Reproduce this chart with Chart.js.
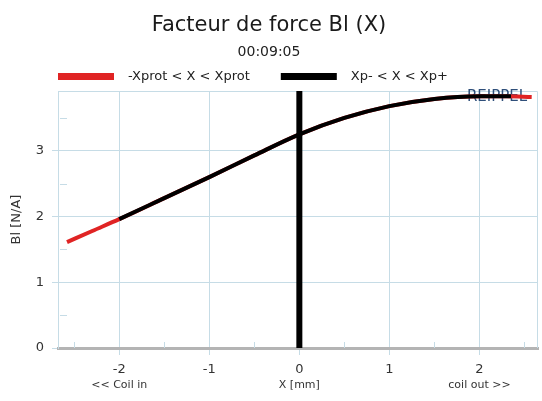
<!DOCTYPE html>
<html>
<head>
<meta charset="utf-8">
<script src="https://cdn.jsdelivr.net/npm/chart.js@4/dist/chart.umd.min.js"></script>
<style>
  html, body { margin: 0; background: #fff; }
  #wrap { width: 542px; height: 401px; }
</style>
</head>
<body>
<div id="wrap"><canvas id="bl"></canvas></div>
<script>
// Bl(X), X in mm
var xFull = [-2.58, -2.3, -2.0, -1.5, -1.0, -0.5, 0, 0.5, 1.0, 1.5, 2.0, 2.3, 2.58];
var blFull = [1.61, 1.78, 1.96, 2.28, 2.60, 2.93, 3.25, 3.50, 3.68, 3.79, 3.83, 3.83, 3.82];
var xInner = [-2.0, -1.5, -1.0, -0.5, 0, 0.5, 1.0, 1.5, 2.0, 2.35];
var blInner = [1.96, 2.28, 2.60, 2.93, 3.25, 3.50, 3.68, 3.79, 3.83, 3.83];
var xMarker = [0, 0];
var yMarker = [0, 3.91];
var xTicks = [-2, -1, 0, 1, 2];
var yTicks = [0, 1, 2, 3];
var xMinor = [-2.5, -1.5, -0.5, 0.5, 1.5, 2.5];
var yMinor = [0.5, 1.5, 2.5, 3.5];
var xSubTicks = [-2, 0, 2];
var xSubLabels = ['<< Coil in', 'X [mm]', 'coil out >>'];
var seriesNames = ['-Xprot < X < Xprot', 'Xp- < X < Xp+'];

var FONT = 'DejaVu Sans';
var GRID = '#c6dce6';

function pts(xs, ys){
  var out = [];
  for (var i = 0; i < xs.length; i++) {
    out.push({x: xs[i], y: ys[i]});
  }
  return out;
}

// minor marks, frame, watermark, sub labels and legend
var extras = {
  id: 'extras',
  beforeDatasetsDraw: function(chart){
    var ctx = chart.ctx;
    var a = chart.chartArea;
    var sx = chart.scales.x, sy = chart.scales.y;
    ctx.save();
    ctx.strokeStyle = GRID;
    ctx.lineWidth = 1;
    ctx.beginPath();
    ctx.moveTo(a.left, a.top + 0.5);
    ctx.lineTo(a.right - 0.5, a.top + 0.5);
    ctx.lineTo(a.right - 0.5, a.bottom);
    xMinor.forEach(function(v){
      var px = Math.round(sx.getPixelForValue(v)) + 0.5;
      ctx.moveTo(px, a.bottom);
      ctx.lineTo(px, a.bottom - 6);
    });
    yMinor.forEach(function(v){
      var py = Math.round(sy.getPixelForValue(v)) + 0.5;
      ctx.moveTo(a.left + 2, py);
      ctx.lineTo(a.left + 9, py);
    });
    ctx.stroke();

    ctx.fillStyle = '#2f4f7a';
    ctx.font = '15px "' + FONT + '"';
    ctx.textAlign = 'center';
    ctx.textBaseline = 'middle';
    ctx.fillText('REIPPEL', a.right - 41, a.top + 6);
    ctx.restore();
  },
  afterDraw: function(chart){
    var ctx = chart.ctx;
    var a = chart.chartArea;
    var sx = chart.scales.x;
    ctx.save();
    ctx.fillStyle = '#333';
    ctx.font = '11px "' + FONT + '"';
    ctx.textAlign = 'center';
    ctx.textBaseline = 'middle';
    xSubTicks.forEach(function(v, i){
      ctx.fillText(xSubLabels[i], sx.getPixelForValue(v), 385);
    });

    // legend
    ctx.font = '13px "' + FONT + '"';
    ctx.textAlign = 'left';
    var x = a.left;
    var y = 76.5;
    for (var i = 0; i < seriesNames.length; i++) {
      var ds = chart.data.datasets[i];
      ctx.fillStyle = ds.borderColor;
      ctx.fillRect(x, y - 3.5, 56, 7);
      ctx.fillStyle = '#222';
      ctx.fillText(seriesNames[i], x + 70, y);
      x += 70 + ctx.measureText(seriesNames[i]).width + 31;
    }
    ctx.restore();
  }
};

function init(){
  var ctx = document.getElementById('bl');
  new Chart(ctx, {
    type: 'line',
    data: {
      datasets: [{
        label: seriesNames[0],
        data: pts(xFull, blFull),
        borderColor: '#e02424',
        borderWidth: 4,
        pointRadius: 0,
        cubicInterpolationMode: 'monotone',
        order: 3
      }, {
        label: seriesNames[1],
        data: pts(xInner, blInner),
        borderColor: '#000',
        borderWidth: 4,
        pointRadius: 0,
        cubicInterpolationMode: 'monotone',
        order: 2
      }, {
        label: 'X = 0',
        data: pts(xMarker, yMarker),
        borderColor: '#000',
        borderWidth: 6,
        pointRadius: 0,
        order: 1
      }]
    },
    options: {
      responsive: true,
      maintainAspectRatio: false,
      devicePixelRatio: 1,
      animation: false,
      layout: { padding: { right: 4 } },
      plugins: {
        legend: { display: false },
        tooltip: { enabled: false },
        title: {
          display: true,
          text: 'Facteur de force Bl (X)',
          color: '#1a1a1a',
          font: { family: FONT, size: 21, weight: 'normal' },
          padding: { top: 13, bottom: 2 }
        },
        subtitle: {
          display: true,
          text: '00:09:05',
          color: '#222',
          font: { family: FONT, size: 14 },
          padding: { top: 4, bottom: 30 }
        }
      },
      scales: {
        x: {
          type: 'linear',
          min: -2.68,
          max: 2.65,
          afterBuildTicks: function(scale){
            scale.ticks = xTicks.map(function(v){ return {value: v}; });
          },
          afterFit: function(scale){ scale.height = 53; },
          grid: { color: GRID, tickColor: GRID, tickLength: 7 },
          border: { color: '#b4b4b4', width: 3 },
          ticks: {
            color: '#333',
            padding: 7,
            maxRotation: 0,
            font: { family: FONT, size: 13 }
          }
        },
        y: {
          min: 0,
          max: 3.91,
          afterBuildTicks: function(scale){
            scale.ticks = yTicks.map(function(v){ return {value: v}; });
          },
          afterFit: function(scale){ scale.width = 58; },
          grid: { color: GRID, tickColor: GRID, tickLength: 6 },
          border: { color: GRID, width: 1 },
          ticks: {
            color: '#333',
            padding: 8,
            font: { family: FONT, size: 13 }
          },
          title: {
            display: true,
            text: 'Bl [N/A]',
            color: '#333',
            font: { family: FONT, size: 13 },
            padding: { top: 9, bottom: 0 }
          }
        }
      }
    },
    plugins: [extras]
  });
}

init();
</script>
</body>
</html>
